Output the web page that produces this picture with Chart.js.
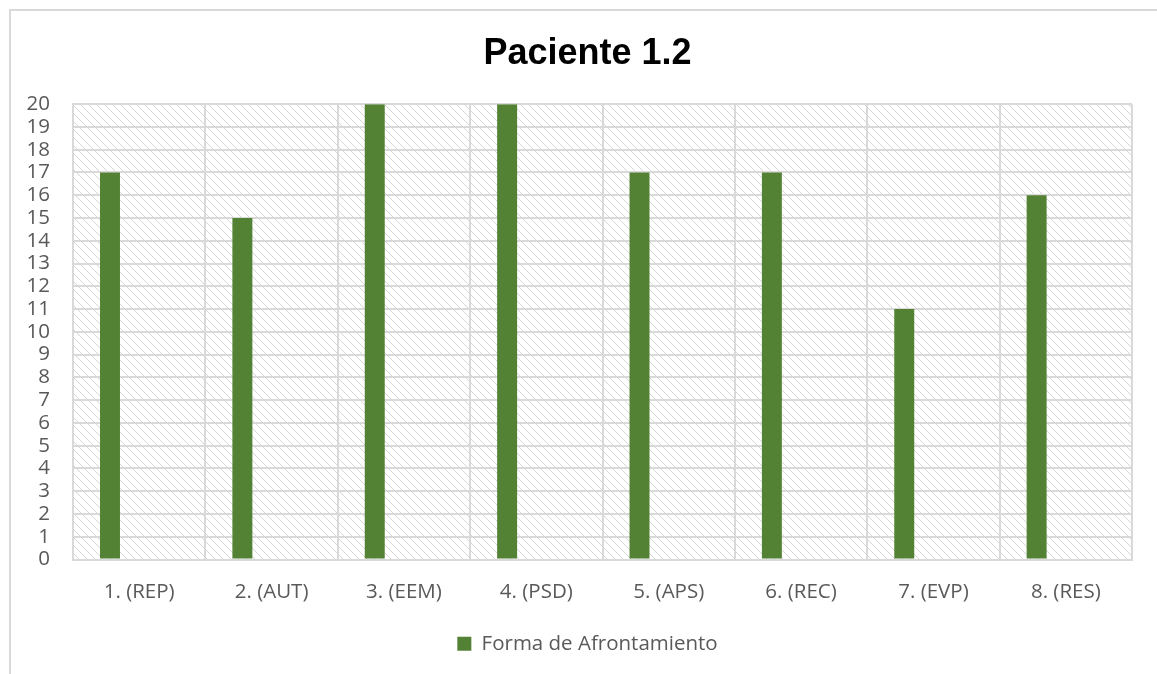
<!DOCTYPE html>
<html>
<head>
<meta charset="utf-8">
<script src="https://cdn.jsdelivr.net/npm/chart.js@4"></script>
<style>
  html, body { margin: 0; padding: 0; background: #fff; overflow: hidden; width: 1157px; height: 674px; }
  #frame { position: absolute; left: 9px; top: 9px; width: 1300px; height: 800px;
           border-left: 2px solid #d9d9d9; border-top: 2px solid #d9d9d9; box-sizing: border-box; }
  #c { position: absolute; left: 0; top: 0; }
</style>
</head>
<body>
<div id="frame"></div>
<canvas id="c" width="1175" height="674"></canvas>
<script>
// Coping-style scores for one patient
const categories = ['1. (REP)', '2. (AUT)', '3. (EEM)', '4. (PSD)', '5. (APS)', '6. (REC)', '7. (EVP)', '8. (RES)'];
const scores = [17, 15, 20, 20, 17, 17, 11, 16];
const seriesName = 'Forma de Afrontamiento';
const chartTitle = 'Paciente 1.2';
const yMin = 0, yMax = 20, yStep = 1;

const axisFont = { family: '"Open Sans", sans-serif', size: 20.5 };
const axisColor = '#595959';
const gridColor = '#d9d9d9';

// diagonal hatch used behind the plot
function makeHatch() {
  const t = document.createElement('canvas');
  t.width = 8; t.height = 8;
  const g = t.getContext('2d');
  g.fillStyle = '#ffffff';
  g.fillRect(0, 0, 8, 8);
  g.fillStyle = '#d6d6d6';
  for (let y = 0; y < 8; y++) {
    for (let x = 0; x < 8; x++) {
      const d = ((x - y) % 8 + 8) % 8;
      if (d === 0 || (d === 1 && (x + y) % 2 === 0)) g.fillRect(x, y, 1, 1);
    }
  }
  return g.createPattern(t, 'repeat');
}

const hatchPlugin = {
  id: 'hatchBackground',
  beforeDraw(chart) {
    const { ctx, chartArea: a } = chart;
    ctx.save();
    ctx.fillStyle = makeHatch();
    ctx.fillRect(a.left, a.top, a.right - a.left, a.bottom - a.top);
    ctx.restore();
  }
};

new Chart(document.getElementById('c'), {
  type: 'bar',
  data: {
    labels: categories,
    datasets: [
      { label: seriesName, data: scores, backgroundColor: '#548235', borderWidth: 0 },
      { label: '', data: [], backgroundColor: 'rgba(0,0,0,0)' }
    ]
  },
  options: {
    responsive: false,
    animation: false,
    events: [],
    categoryPercentage: 0.882,
    barPercentage: 0.342,
    layout: { padding: { left: 0, right: 0, top: 0, bottom: 10 } },
    plugins: {
      title: {
        display: true,
        text: chartTitle,
        color: '#000000',
        font: { family: '"Liberation Sans", Arial, sans-serif', size: 36, weight: 'bold' },
        padding: { top: 32, bottom: 29 }
      },
      legend: {
        position: 'bottom',
        labels: {
          color: axisColor,
          font: axisFont,
          boxWidth: 14,
          boxHeight: 14,
          padding: 10,
          filter: (item) => item.text !== ''
        }
      },
      tooltip: { enabled: false }
    },
    scales: {
      x: {
        grid: { color: gridColor, lineWidth: 2, drawTicks: false, offset: true },
        border: { display: true, color: gridColor, width: 2 },
        ticks: { color: axisColor, font: axisFont, padding: 20, maxRotation: 0 },
        afterFit(s) { s.height = 64; }
      },
      y: {
        min: yMin, max: yMax,
        grid: { color: gridColor, lineWidth: 2, drawTicks: false },
        border: { display: true, color: gridColor, width: 2 },
        ticks: { stepSize: yStep, color: axisColor, font: axisFont, padding: 23, autoSkip: false },
        afterFit(s) { s.width = 73; }
      },
      // blank right-hand margin so the title and legend centre on the full frame
      yRight: {
        position: 'right',
        min: yMin, max: yMax,
        grid: { display: false },
        border: { display: false },
        ticks: { display: false },
        afterFit(s) { s.width = 43; }
      }
    }
  },
  plugins: [hatchPlugin]
});
</script>
</body>
</html>
